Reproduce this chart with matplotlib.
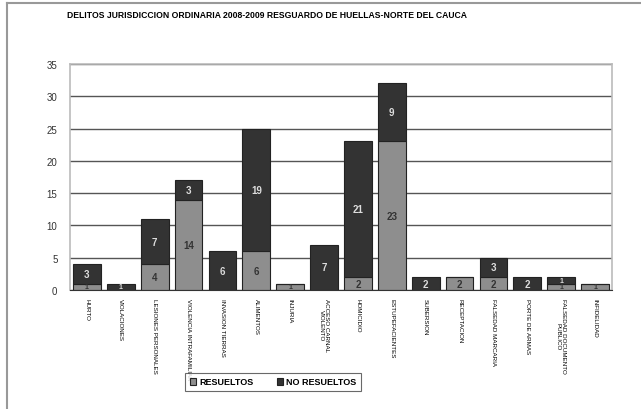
import matplotlib

matplotlib.use("Agg")
import matplotlib.pyplot as plt
import numpy as np

categories = [
    "HURTO", "VIOLACIONES", "LESIONES PERSONALES", "VIOLENCIA INTRAFAMILIAR",
    "INVASION TIERRAS", "ALIMENTOS", "INJURIA", "ACCESO CARNAL\nVIOLENTO",
    "HOMICIDIO", "ESTUPEFACIENTES", "SUBERSION", "RECEPTACION",
    "FALSEDAD MARCARIA", "PORTE DE ARMAS", "FALSEDAD DOCUMENTO\nPUBLICO",
    "INFIDELIDAD",
]
resueltos = [1, 0, 4, 14, 0, 6, 1, 0, 2, 23, 0, 2, 2, 0, 1, 1]
no_resueltos = [3, 1, 7, 3, 6, 19, 0, 7, 21, 9, 2, 0, 3, 2, 1, 0]
title = "DELITOS JURISDICCION ORDINARIA 2008-2009 RESGUARDO DE HUELLAS-NORTE DEL CAUCA"

plt.rcParams["font.family"] = ["Liberation Sans", "DejaVu Sans"]

fig = plt.figure(figsize=(6.41, 4.10), dpi=100)
# outer chart border (left and top only visible)
fig.add_artist(plt.Line2D([7 / 641, 7 / 641], [0, 1 - 4 / 410], color="#999999", lw=1.5))
fig.add_artist(plt.Line2D([7 / 641, 1], [1 - 4 / 410, 1 - 4 / 410], color="#999999", lw=1.5))

ax = fig.add_axes([70 / 641, 1 - 291 / 410, (612 - 70) / 641, (291 - 65) / 410])
x = np.arange(len(categories))
w = 0.82
light = "#8e8e8e"
dark = "#333333"

ax.set_axisbelow(True)
ax.yaxis.grid(True, color="#555555", lw=1.0)
b1 = ax.bar(x, resueltos, w, color=light, edgecolor="#222222", lw=0.8, label="RESUELTOS")
b2 = ax.bar(x, no_resueltos, w, bottom=resueltos, color=dark, edgecolor="#222222", lw=0.8,
            label="NO RESUELTOS")

for i in range(len(categories)):
    r, n = resueltos[i], no_resueltos[i]
    if r > 0:
        ax.text(x[i], r / 2, str(r), ha="center", va="center",
                fontsize=7 if r > 1 else 5, color="#333333", fontweight="bold")
    if n > 0:
        ax.text(x[i], r + n / 2, str(n), ha="center", va="center",
                fontsize=7 if n > 1 else 5, color="#dddddd", fontweight="bold")

ax.set_xlim(-0.5, len(categories) - 0.5)
ax.set_ylim(0, 35)
ax.set_yticks(range(0, 36, 5))
ax.tick_params(axis="y", length=0, labelsize=7, pad=9, labelcolor="#333333")
ax.tick_params(axis="x", length=0, pad=6)
ax.set_xticks(x)
ax.set_xticklabels(categories, rotation=270, fontsize=4.5, va="top", ha="center",
                   linespacing=1.1)
for s in ["top", "right", "left"]:
    ax.spines[s].set_color("#bbbbbb")
    ax.spines[s].set_linewidth(1.2)
ax.spines["bottom"].set_color("#333333")

fig.text(267 / 641, 1 - 15 / 410, title, ha="center", va="center", fontsize=6.2,
         fontweight="bold")

leg = fig.legend(handles=[b1, b2], loc="center", bbox_to_anchor=(273 / 641, 1 - 383 / 410),
                 ncol=2, frameon=True, fancybox=False, edgecolor="#444444",
                 handlelength=0.7, handleheight=0.7, handletextpad=0.3, columnspacing=2.6,
                 borderpad=0.5, prop={"weight": "bold", "size": 6.5})
leg.get_frame().set_linewidth(0.8)

fig.savefig("out.png", dpi=100)
